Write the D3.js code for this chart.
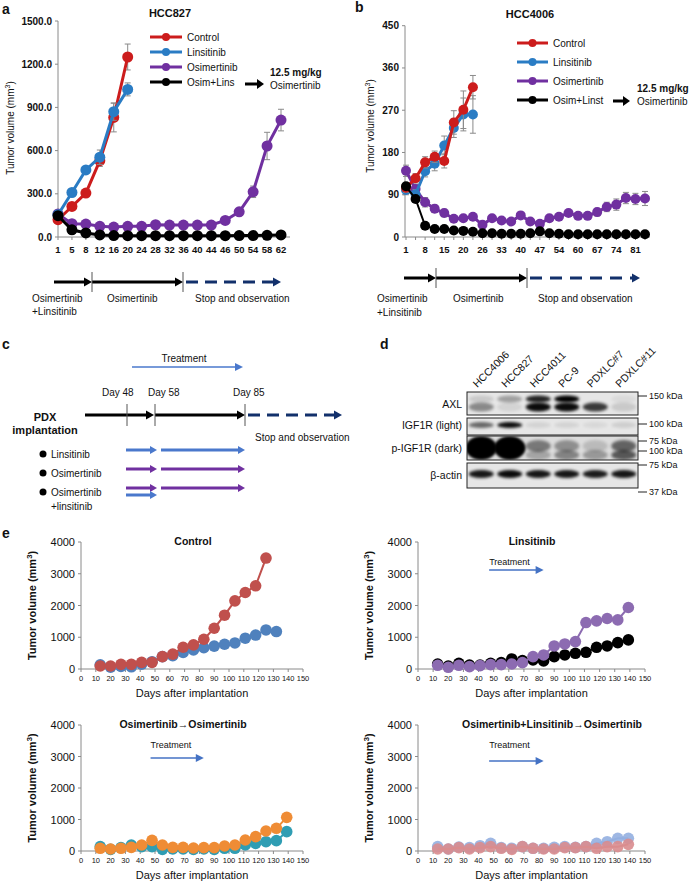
<!DOCTYPE html>
<html><head><meta charset="utf-8">
<script src="https://cdn.jsdelivr.net/npm/d3@7"></script>
<style>
body{margin:0;background:#fff}
text{font-family:Arial,"Liberation Sans",sans-serif;fill:#111}
</style></head><body>
<svg id="fig" width="690" height="884"></svg>
<script>
// ---- panel a (HCC827) ----
var daysA = [1,5,8,12,16,20,24,28,32,36,40,44,46,50,54,58,62];
var ctrlA = [120,212,305,530,830,1250];
var ctrlAErr = [15,20,25,40,100,90];
var linsA = [155,309,466,554,870,1025];
var linsAErr = [15,20,20,50,60,45];
var osimA = [160,92,90,74,69,74,74,85,83,83,83,83,115,175,314,632,812];
var osimAErr = [10,10,8,8,8,8,8,8,8,8,8,8,10,15,40,95,75];
var comboA = [148,50,28,14,10,9,9,9,9,9,9,9,9,10,10,12,14];
var ticksA = [0,300,600,900,1200,1500];

// ---- panel b (HCC4006) ----
var daysB = [1,4,8,11,15,18,20,22,26,29,33,36,40,43,47,50,54,57,60,63,67,70,74,77,81,84];
var labelsB = [1,8,15,20,26,33,40,47,54,60,67,74,81];
var ctrlB = [105,125,159,171,162,244,271,319];
var ctrlBErr = [10,10,12,12,15,25,40,25];
var linsB = [100,91,140,156,195,232,261,261];
var linsBErr = [10,10,12,15,20,20,35,40];
var osimB = [141,102,74,60,51,39,40,43,26,40,35,33,46,33,28,40,43,51,45,45,53,64,69,83,81,82];
var osimBErr = [12,10,10,8,8,6,6,6,6,6,6,6,6,6,6,6,6,6,6,6,8,10,12,12,12,15];
var comboB = [108,81,24,17,17,14,13,11,8,8,7,7,7,8,12,8,7,6,6,6,6,6,6,6,6,6];
var ticksB = [0,90,180,270,360,450];

// ---- panel d (western blot, band intensity 0..1) ----
var lanes = ["HCC4006","HCC827","HCC4011","PC-9","PDXLC#7","PDXLC#11"];
var axlTop = [0.12,0.3,0.85,1.0,0.0,0.05];
var axlBottom = [0.4,0.08,0.95,0.95,0.75,0.12];
var igfLight = [0.55,0.95,0.08,0.08,0.06,0.1];
var pigfTop = [1,1,0.45,0.35,0.15,0.55];
var pigfBottom = [0.95,1,0.25,0.4,0.3,0.6];
var actin = [0.9,0.95,0.9,0.9,0.88,0.9];
var blotRows = ["AXL","IGF1R (light)","p-IGF1R (dark)","β-actin"];
var kda = ["150 kDa","100 kDa","75 kDa","100 kDa","75 kDa","37 kDa"];

// ---- panel e (PDX) ----
var daysE = [13,20,27,34,41,48,55,62,69,76,83,90,97,104,111,118,125,132,139];
var ctlRed = [95,95,147,147,210,210,390,470,685,760,937,1284,1695,2147,2410,2621,3495];
var ctlBlue = [130,60,80,70,150,230,390,420,520,600,670,720,780,820,970,1070,1230,1180];
var linBlack = [158,95,179,126,126,179,200,316,263,284,253,390,442,495,526,684,726,832,916];
var linPurple = [116,53,116,74,105,137,137,158,200,390,442,726,789,863,1463,1516,1590,1547,1937];
var osiTeal = [138,53,106,190,138,138,53,63,63,53,63,53,85,85,190,243,296,328,614];
var osiOrange = [85,63,85,116,190,338,190,116,116,95,106,106,159,190,349,455,635,720,1069];
var comLight = [138,63,127,106,169,243,106,85,138,85,85,116,138,116,138,243,296,402,402];
var comPink = [63,63,106,63,106,138,85,53,138,85,63,63,106,106,138,85,138,138,211];
var ticksEy = [0,1000,2000,3000,4000];
var ticksEx = [0,10,20,30,40,50,60,70,80,90,100,110,120,130,140,150];

var svg = d3.select("#fig");
var gray = "#8a8a8a";

function arrow(g, x1, x2, y, color, w, hl, hw, dash) {
  g.append("line").attr("x1", x1).attr("x2", x2 - hl + 1).attr("y1", y).attr("y2", y)
    .attr("stroke", color).attr("stroke-width", w)
    .attr("stroke-dasharray", dash || null);
  g.append("path").attr("d", "M" + x2 + "," + y + "L" + (x2 - hl) + "," + (y - hw) + "L" + (x2 - hl) + "," + (y + hw) + "Z")
    .attr("fill", color);
}

function txt(g, x, y, s, size, weight, anchor) {
  return g.append("text").attr("x", x).attr("y", y).attr("font-size", size)
    .attr("font-weight", weight || null).attr("text-anchor", anchor || "start").text(s);
}

function yLabel(g, x, y, size, weight) {
  var t = g.append("text").attr("transform", "translate(" + x + "," + y + ") rotate(-90)")
    .attr("text-anchor", "middle").attr("font-size", size).attr("font-weight", weight || null);
  t.append("tspan").text("Tumor volume (mm");
  t.append("tspan").attr("dy", -4).attr("font-size", size * 0.7).text("3");
  t.append("tspan").attr("dy", 4).text(")");
}

function curve(g, x, y, days, vals, err, color, r, lw, op) {
  var pts = vals.map((v, i) => ({d: days[i], v: v, e: err ? err[i] : 0}));
  if (err) {
    var eb = g.append("g").attr("stroke", gray).attr("stroke-width", 1);
    pts.forEach(p => {
      if (!p.e) return;
      var cx = x(p.d);
      eb.append("line").attr("x1", cx).attr("x2", cx).attr("y1", y(p.v - p.e)).attr("y2", y(p.v + p.e));
      eb.append("line").attr("x1", cx - 3).attr("x2", cx + 3).attr("y1", y(p.v + p.e)).attr("y2", y(p.v + p.e));
      eb.append("line").attr("x1", cx - 3).attr("x2", cx + 3).attr("y1", y(p.v - p.e)).attr("y2", y(p.v - p.e));
    });
  }
  g.append("path").datum(pts)
    .attr("d", d3.line().x(p => x(p.d)).y(p => y(p.v)))
    .attr("fill", "none").attr("stroke", color).attr("stroke-width", lw);
  g.selectAll(null).data(pts).enter().append("circle")
    .attr("cx", p => x(p.d)).attr("cy", p => y(p.v)).attr("r", r).attr("fill", color)
    .attr("fill-opacity", op || 1);
}

function timeAxisPanel(g, x, y, days, labels, ticks, fmt, axisX, axisEnd) {
  g.append("line").attr("x1", axisX).attr("x2", axisX).attr("y1", y.range()[0]).attr("y2", y.range()[1])
    .attr("stroke", gray);
  g.append("line").attr("x1", axisX).attr("x2", axisEnd).attr("y1", y(0)).attr("y2", y(0)).attr("stroke", gray);
  ticks.forEach(t => {
    g.append("line").attr("x1", axisX - 3).attr("x2", axisX).attr("y1", y(t)).attr("y2", y(t)).attr("stroke", gray);
    txt(g, axisX - 6, y(t) + 3.5, fmt(t), 10, "bold", "end");
  });
  days.forEach(d => {
    g.append("line").attr("x1", x(d)).attr("x2", x(d)).attr("y1", y(0)).attr("y2", y(0) + 3).attr("stroke", gray);
  });
  labels.forEach(d => txt(g, x(d), y(0) + 16, d, 9.5, "bold", "middle"));
}

function legendRow(g, x1, x2, y, color, label) {
  g.append("line").attr("x1", x1).attr("x2", x2).attr("y1", y).attr("y2", y).attr("stroke", color).attr("stroke-width", 3);
  g.append("circle").attr("cx", (x1 + x2) / 2).attr("cy", y).attr("r", 4).attr("fill", color);
  txt(g, x2 + 5, y + 3.5, label, 10);
}

// ================= panel a =================
var ga = svg.append("g");
txt(ga, 2, 14, "a", 14, "bold");
txt(ga, 170, 17, "HCC827", 11, "bold", "middle");
var xA = d3.scalePoint().domain(daysA).range([58, 281]);
var yA = d3.scaleLinear().domain([0, 1500]).range([237, 21]);
timeAxisPanel(ga, xA, yA, daysA, daysA, ticksA, d3.format(".1f"), 58, 290);
yLabel(ga, 14, 128, 10);
curve(ga, xA, yA, daysA, osimA, osimAErr, "#7030a0", 5.5, 3);
curve(ga, xA, yA, daysA, ctrlA, ctrlAErr, "#cc1c1c", 5.5, 3);
curve(ga, xA, yA, daysA, linsA, linsAErr, "#2a7cc4", 5.5, 3);
curve(ga, xA, yA, daysA, comboA, null, "#000", 5.5, 3);
legendRow(ga, 150, 182, 37, "#cc1c1c", "Control");
legendRow(ga, 150, 182, 52, "#2a7cc4", "Linsitinib");
legendRow(ga, 150, 182, 67, "#7030a0", "Osimertinib");
legendRow(ga, 150, 182, 82, "#000", "Osim+Lins");
arrow(ga, 245, 264, 84, "#000", 3, 7, 5);
txt(ga, 270, 76, "12.5 mg/kg", 10, "bold");
txt(ga, 270, 89, "Osimertinib", 10);
// timeline a
arrow(ga, 54, 92, 282, "#000", 3, 8, 4.5);
arrow(ga, 92, 183, 282, "#000", 3, 8, 4.5);
arrow(ga, 186, 281, 282, "#12306b", 3, 8, 4.5, "12,7");
[92, 183].forEach(v => ga.append("line").attr("x1", v).attr("x2", v).attr("y1", 272).attr("y2", 292).attr("stroke", "#555"));
txt(ga, 32, 302, "Osimertinib", 10);
txt(ga, 32, 315, "+Linsitinib", 10);
txt(ga, 107, 302, "Osimertinib", 10);
txt(ga, 195, 302, "Stop and observation", 10);

// ================= panel b =================
var gb = svg.append("g");
txt(gb, 355, 12, "b", 14, "bold");
txt(gb, 530, 18, "HCC4006", 11, "bold", "middle");
var xB = d3.scalePoint().domain(daysB).range([406, 645]);
var yB = d3.scaleLinear().domain([0, 450]).range([237, 25.7]);
timeAxisPanel(gb, xB, yB, daysB, labelsB, ticksB, d3.format("d"), 405, 650);
yLabel(gb, 374, 126, 10);
curve(gb, xB, yB, daysB, osimB, osimBErr, "#7030a0", 5, 3);
curve(gb, xB, yB, daysB, linsB, linsBErr, "#2a7cc4", 5, 3);
curve(gb, xB, yB, daysB, ctrlB, ctrlBErr, "#cc1c1c", 5, 3);
curve(gb, xB, yB, daysB, comboB, null, "#000", 5, 2);
legendRow(gb, 517, 548, 43, "#cc1c1c", "Control");
legendRow(gb, 517, 548, 62, "#2a7cc4", "Linsitinib");
legendRow(gb, 517, 548, 81, "#7030a0", "Osimertinib");
legendRow(gb, 517, 548, 100, "#000", "Osim+Linst");
arrow(gb, 613, 630, 101, "#000", 3, 7, 5);
txt(gb, 637, 92, "12.5 mg/kg", 10, "bold");
txt(gb, 637, 105, "Osimertinib", 10);
arrow(gb, 404, 436, 278, "#000", 3, 8, 4.5);
arrow(gb, 436, 527, 278, "#000", 3, 8, 4.5);
arrow(gb, 530, 640, 278, "#12306b", 3, 8, 4.5, "12,8");
[436, 527].forEach(v => gb.append("line").attr("x1", v).attr("x2", v).attr("y1", 268).attr("y2", 288).attr("stroke", "#555"));
txt(gb, 377, 302, "Osimertinib", 10);
txt(gb, 377, 316, "+Linsitinib", 10);
txt(gb, 453, 302, "Osimertinib", 10);
txt(gb, 538, 302, "Stop and observation", 10);

// ================= panel c =================
var gc = svg.append("g");
var blueA = "#4a78cc", purp = "#7030a0";
txt(gc, 2, 349, "c", 14, "bold");
txt(gc, 184, 362, "Treatment", 10, null, "middle");
arrow(gc, 132, 243, 367, blueA, 1.5, 8, 4);
txt(gc, 102, 396, "Day 48", 10);
txt(gc, 148, 396, "Day 58", 10);
txt(gc, 233, 396, "Day 85", 10);
arrow(gc, 85, 154, 415, "#000", 3, 8, 4.5);
arrow(gc, 155, 245, 415, "#000", 3, 8, 4.5);
arrow(gc, 248, 342, 415, "#12306b", 3, 8, 4.5, "12,7");
[127, 155, 245].forEach(v => gc.append("line").attr("x1", v).attr("x2", v).attr("y1", 404).attr("y2", 426).attr("stroke", "#555"));
txt(gc, 45, 421, "PDX", 11, "bold", "middle");
txt(gc, 45, 434, "implantation", 11, "bold", "middle");
txt(gc, 255, 441, "Stop and observation", 10);
[[454, "Linsitinib"], [473, "Osimertinib"], [492, "Osimertinib"]].forEach(r => {
  gc.append("circle").attr("cx", 43).attr("cy", r[0]).attr("r", 3.5).attr("fill", "#000");
  txt(gc, 51, r[0] + 3.5, r[1], 10);
});
txt(gc, 51, 510, "+linsitinib", 10);
arrow(gc, 126, 157, 450, blueA, 3, 7, 4);
arrow(gc, 161, 245, 450, blueA, 3, 7, 4);
arrow(gc, 126, 157, 469, purp, 3, 7, 4);
arrow(gc, 161, 245, 469, purp, 3, 7, 4);
arrow(gc, 126, 157, 488, purp, 3, 7, 4);
arrow(gc, 126, 157, 495, blueA, 3, 7, 4);
arrow(gc, 161, 245, 488, purp, 3, 7, 4);

// ================= panel d =================
var gd = svg.append("g");
txt(gd, 380, 349, "d", 14, "bold");
var defs = svg.append("defs");
defs.append("filter").attr("id", "blur").attr("x", "-50%").attr("y", "-100%").attr("width", "200%").attr("height", "300%")
  .append("feGaussianBlur").attr("stdDeviation", 1.8);
var xL = d3.scaleBand().domain(lanes).range([467, 638]);
lanes.forEach(l => {
  var cx = xL(l) + xL.bandwidth() / 2;
  txt(gd, cx - 4, 388, l, 10.5).attr("transform", "rotate(-45," + (cx - 4) + ",388)");
});
var boxes = [{y: 392, h: 23}, {y: 418, h: 17}, {y: 436, h: 24}, {y: 463, h: 25}];
var bands = [
  [{v: axlTop, y: 399, ry: 3.5}, {v: axlBottom, y: 407, ry: 4.5}],
  [{v: igfLight, y: 425, ry: 3}],
  [{v: pigfTop, y: 446, ry: 6}, {v: pigfBottom, y: 455, ry: 5}],
  [{v: actin, y: 474, ry: 4}]
];
boxes.forEach((b, i) => {
  var cid = "clip" + i;
  defs.append("clipPath").attr("id", cid).append("rect").attr("x", 467).attr("y", b.y).attr("width", 171).attr("height", b.h);
  gd.append("rect").attr("x", 467).attr("y", b.y).attr("width", 171).attr("height", b.h).attr("fill", i === 2 ? "#dcdcdc" : "#e6e6e6");
  var bg = gd.append("g").attr("clip-path", "url(#" + cid + ")");
  bands[i].forEach(bd => {
    bd.v.forEach((v, j) => {
      if (v <= 0) return;
      var cx = xL(lanes[j]) + xL.bandwidth() / 2;
      var big = (i === 2 && j < 2);
      bg.append("ellipse").attr("cx", cx).attr("cy", big ? 448 : bd.y)
        .attr("rx", big ? 15 : 12.5).attr("ry", big ? 11 : bd.ry)
        .attr("fill", "#000").attr("opacity", v).attr("filter", "url(#blur)");
    });
  });
  gd.append("rect").attr("x", 467).attr("y", b.y).attr("width", 171).attr("height", b.h)
    .attr("fill", "none").attr("stroke", "#222").attr("stroke-width", 1);
});
var rowY = [408, 429, 452, 479];
blotRows.forEach((r, i) => txt(gd, 462, rowY[i], r, 10.5, null, "end"));
var kdaY = [396, 424, 441, 451, 465, 492];
kda.forEach((k, i) => {
  gd.append("line").attr("x1", 638).attr("x2", 647).attr("y1", kdaY[i]).attr("y2", kdaY[i]).attr("stroke", "#222");
  txt(gd, 649, kdaY[i] + 3, k, 9);
});

// ================= panel e =================
function pdxPanel(o) {
  var g = svg.append("g");
  var x = d3.scaleLinear().domain([0, 150]).range([o.x0, o.x1]);
  var y = d3.scaleLinear().domain([0, 4000]).range([o.yb, o.yt]);
  g.append("line").attr("x1", x(0)).attr("x2", x(0)).attr("y1", y(0)).attr("y2", y(4000)).attr("stroke", gray);
  g.append("line").attr("x1", x(0)).attr("x2", x(150)).attr("y1", y(0)).attr("y2", y(0)).attr("stroke", gray);
  ticksEy.forEach(t => {
    g.append("line").attr("x1", x(0) - 3).attr("x2", x(0)).attr("y1", y(t)).attr("y2", y(t)).attr("stroke", gray);
    txt(g, x(0) - 6, y(t) + 4, t, 11, null, "end");
  });
  ticksEx.forEach(t => {
    g.append("line").attr("x1", x(t)).attr("x2", x(t)).attr("y1", y(0)).attr("y2", y(0) + 3).attr("stroke", gray);
    txt(g, x(t), y(0) + 12, t, 7.5, null, "middle");
  });
  txt(g, (o.x0 + o.x1) / 2, y(0) + 28, "Days after implantation", 11, null, "middle");
  yLabel(g, o.x0 - 45, (o.yb + o.yt) / 2, 11, "bold");
  txt(g, o.tx, o.yt + 3, o.title, 10.5, "bold", "middle");
  if (o.treat) {
    txt(g, x(47), o.yt + 23, "Treatment", 9);
    arrow(g, x(47), x(83), o.yt + o.ay, "#4472c4", 1.5, 8, 4);
  }
  o.series.forEach(s => curve(g, x, y, daysE, s.v, null, s.c, 5.8, 2, s.op));
}
txt(svg, 2, 538, "e", 14, "bold");
pdxPanel({x0: 81, x1: 303, yb: 669, yt: 542, title: "Control", tx: 193,
  series: [{v: ctlBlue, c: "#4f81bd"}, {v: ctlRed, c: "#c0504d"}]});
pdxPanel({x0: 418, x1: 645, yb: 669, yt: 542, title: "Linsitinib", tx: 532, treat: true, ay: 28,
  series: [{v: linBlack, c: "#000"}, {v: linPurple, c: "#8c6bb1"}]});
pdxPanel({x0: 81, x1: 303, yb: 851, yt: 725, title: "Osimertinib\u2192Osimertinib", tx: 183, treat: true, ay: 33,
  series: [{v: osiTeal, c: "#2f9db3"}, {v: osiOrange, c: "#ef8c35"}]});
pdxPanel({x0: 418, x1: 645, yb: 851, yt: 725, title: "Osimertinib+Linsitinib\u2192Osimertinib", tx: 552, treat: true, ay: 36,
  series: [{v: comLight, c: "#93afe0", op: 0.9}, {v: comPink, c: "#d98c8e", op: 0.9}]});
</script>
</body></html>
